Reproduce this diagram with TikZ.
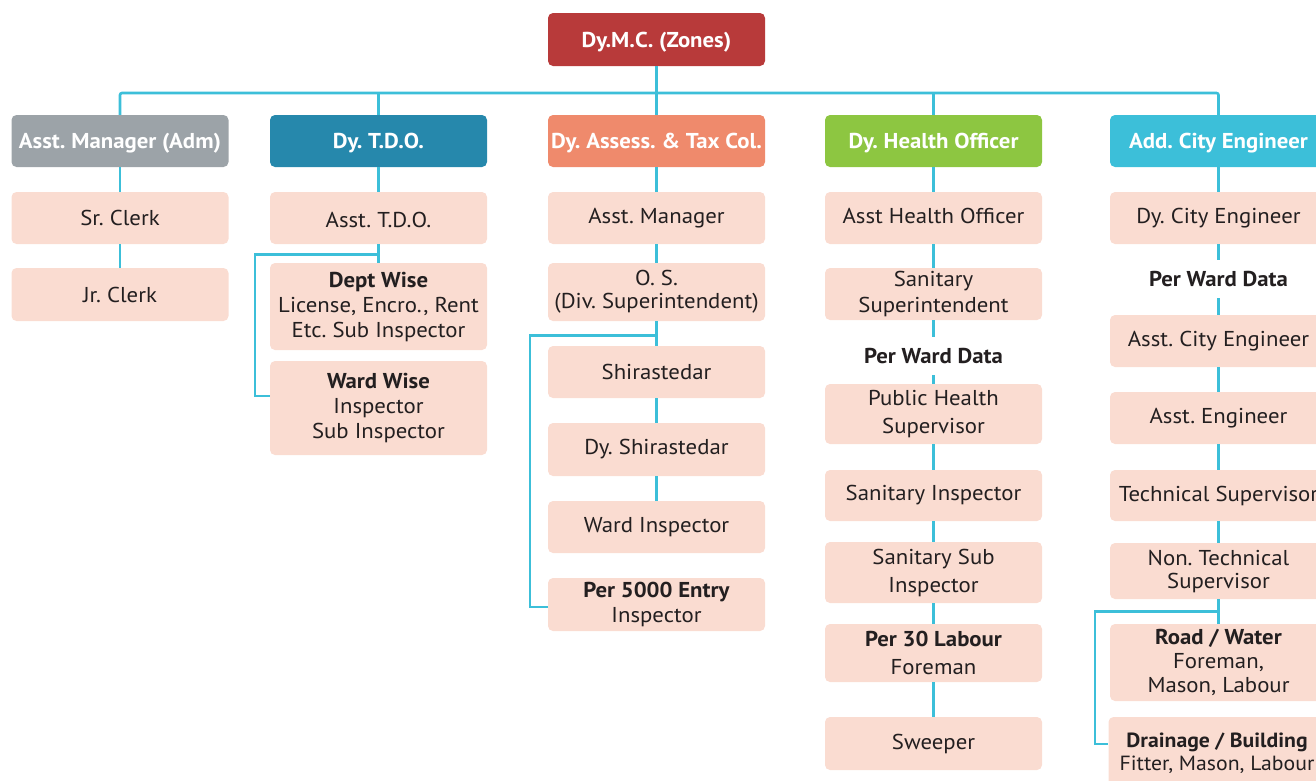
\documentclass[tikz,border=0pt]{standalone}
\usepackage{fontspec}
\setmainfont{PT Sans}[FakeStretch=1.06]
\usetikzlibrary{calc}

\definecolor{zonered}{HTML}{B83A3A}
\definecolor{admgrey}{HTML}{9CA3A8}
\definecolor{tdoteal}{HTML}{2688AC}
\definecolor{taxsalmon}{HTML}{EF8A6C}
\definecolor{healthgreen}{HTML}{8DC641}
\definecolor{engcyan}{HTML}{3CBFD9}
\definecolor{paleboxfill}{HTML}{FADCD1}
\definecolor{wire}{HTML}{3CBFD9}
\definecolor{ink}{HTML}{231F20}

\tikzset{
  box/.style={rectangle, rounded corners=5pt, minimum width=217pt,
    minimum height=52pt, inner sep=2pt, align=center, fill=paleboxfill,
    text=ink, font=\fontsize{21.5}{25}\selectfont},
  headbox/.style={box, text=white, text height=18pt, text depth=3pt,
    font=\bfseries\fontsize{21.5}{25}\selectfont},
  note/.style={inner sep=0pt, minimum height=38pt, text=ink,
    font=\bfseries\fontsize{21.5}{25}\selectfont},
  conn/.style={draw=wire, line width=2.6pt},
}

\begin{document}
\frenchspacing
\begin{tikzpicture}[x=1pt, y=-1pt]
\useasboundingbox (0,0) rectangle (1316,780);

% top of the hierarchy
\node[headbox, fill=zonered, minimum height=53pt] (top) at (656.5,39.5) {Dy.M.C. (Zones)};

% department heads
\node[headbox, fill=admgrey]     (h1) at (120,141)   {Asst. Manager (Adm)};
\node[headbox, fill=tdoteal]     (h2) at (378.5,141) {Dy. T.D.O.};
\node[headbox, fill=taxsalmon]   (h3) at (656.5,141) {Dy. Assess. \& Tax Col.};
\node[headbox, fill=healthgreen] (h4) at (933.5,141) {Dy. Health Officer};
\node[headbox, fill=engcyan]     (h5) at (1218.5,141) {Add. City Engineer};

% administration
\node[box] (c1a) at (120,218) {Sr. Clerk};
\node[box, minimum height=53pt] (c1b) at (120,294.5) {Jr. Clerk};

% town development
\node[box, text height=22pt, text depth=4pt] (c2a) at (378.5,218) {Asst. T.D.O.};
\node[box, minimum height=87pt] (c2b) at (378.5,306.5)
  {\textbf{Dept Wise}\\License, Encro., Rent\\Etc. Sub Inspector};
\node[box, minimum height=94pt] (c2c) at (378.5,408)
  {\textbf{Ward Wise}\\Inspector\\Sub Inspector};

% assessment and tax collection
\node[box] (c3a) at (656.5,218) {Asst. Manager};
\node[box, minimum height=58pt, font=\fontsize{21.5}{23}\selectfont] (c3b) at (656.5,292)
  {O. S.\\(Div. Superintendent)};
\node[box] (c3c) at (656.5,372) {Shirastedar};
\node[box, minimum height=53pt] (c3d) at (656.5,449.5) {Dy. Shirastedar};
\node[box] (c3e) at (656.5,527) {Ward Inspector};
\node[box, minimum height=53pt] (c3f) at (656.5,604.5) {\textbf{Per 5000 Entry}\\Inspector};

% health
\node[box, text height=18pt, text depth=8pt] (c4a) at (933.5,218) {Asst Health Officer};
\node[box, font=\fontsize{21.5}{26}\selectfont] (c4b) at (933.5,294) {Sanitary\\Superintendent};
\node[note] (w4) at (933.5,356) {Per Ward Data};
\node[box, minimum height=60pt, font=\fontsize{21.5}{28}\selectfont] (c4c) at (933.5,414)
  {Public Health\\Supervisor};
\node[box, minimum height=51pt] (c4d) at (933.5,495.5) {Sanitary Inspector};
\node[box, minimum height=61pt, font=\fontsize{21.5}{28}\selectfont] (c4e) at (933.5,572.5)
  {Sanitary Sub\\Inspector};
\node[box, minimum height=58pt, font=\fontsize{21.5}{28}\selectfont] (c4f) at (933.5,653)
  {\textbf{Per 30 Labour}\\Foreman};
\node[box, minimum height=53pt] (c4g) at (933.5,743.5) {Sweeper};

% engineering
\node[box] (c5a) at (1218.5,218) {Dy. City Engineer};
\node[note] (w5) at (1218.5,279) {Per Ward Data};
\node[box] (c5b) at (1218.5,341) {Asst. City Engineer};
\node[box] (c5c) at (1218.5,418) {Asst. Engineer};
\node[box, minimum height=51pt] (c5d) at (1218.5,495.5) {Technical Supervisor};
\node[box, minimum height=56pt, font=\fontsize{21.5}{23}\selectfont] (c5e) at (1218.5,571)
  {Non. Technical\\Supervisor};
\node[box, minimum height=77pt, font=\fontsize{21.5}{24}\selectfont] (c5f) at (1218.5,662.5)
  {\textbf{Road / Water}\\Foreman,\\Mason, Labour};
\node[box, minimum height=72pt, font=\fontsize{20.5}{23}\selectfont] (c5g) at (1217,753)
  {\textbf{Drainage / Building}\\Fitter, Mason, Labour};

% bus from the top box to the heads
\coordinate (bus) at (656.5,93);
\draw[conn] (top.south) -- (bus);
\draw[conn, rounded corners=2pt] (h1.north) |- (bus) -| (h5.north);
\draw[conn] (h2.north) -- (h2.north |- bus);
\draw[conn] (h3.north) -- (bus);
\draw[conn] (h4.north) -- (h4.north |- bus);

% administration chain
\draw[conn] (h1.south) -- (c1a.north);
\draw[conn] (c1a.south) -- (c1b.north);

% town development chain with side branch
\draw[conn] (h2.south) -- (c2a.north);
\draw[conn] (c2a.south) -- (c2b.north);
\coordinate (b2) at ($(c2a.south)+(0,10)$);
\coordinate (k2) at ([xshift=-15pt,yshift=12pt]c2c.west);
\draw[conn] (b2) -| (k2) -- ([yshift=12pt]c2c.west);

% assessment chain with side branch
\draw[conn] (h3.south) -- (c3a.north);
\draw[conn] (c3a.south) -- (c3b.north);
\draw[conn] (c3b.south) -- (c3c.north);
\draw[conn] (c3c.south) -- (c3d.north);
\draw[conn] (c3d.south) -- (c3e.north);
\coordinate (b3) at ($(c3b.south)+(0,14)$);
\coordinate (k3) at ([xshift=-18pt,yshift=-2.5pt]c3f.west);
\draw[conn] (b3) -| (k3) -- ([yshift=-2.5pt]c3f.west);

% health chain
\draw[conn] (h4.south) -- (c4a.north);
\draw[conn] (c4a.south) -- (c4b.north);
\draw[conn] (c4b.south) -- (w4.north);
\draw[conn] (w4.south) -- (c4c.north);
\draw[conn] (c4c.south) -- (c4d.north);
\draw[conn] (c4d.south) -- (c4e.north);
\draw[conn] (c4e.south) -- (c4f.north);
\draw[conn] (c4f.south) -- (c4g.north);

% engineering chain with side branch
\draw[conn] (h5.south) -- (c5a.north);
\draw[conn] (c5a.south) -- (w5.north);
\draw[conn] (w5.south) -- (c5b.north);
\draw[conn] (c5b.south) -- (c5c.north);
\draw[conn] (c5c.south) -- (c5d.north);
\draw[conn] (c5d.south) -- (c5e.north);
\draw[conn] (c5e.south) -- (c5f.north);
\coordinate (b5) at ($(c5e.south)+(0,12)$);
\coordinate (k5) at ([xshift=-13.5pt,yshift=9pt]c5g.west);
\draw[conn] (b5) -| (k5) -- ([yshift=9pt]c5g.west);
\end{tikzpicture}
\end{document}
